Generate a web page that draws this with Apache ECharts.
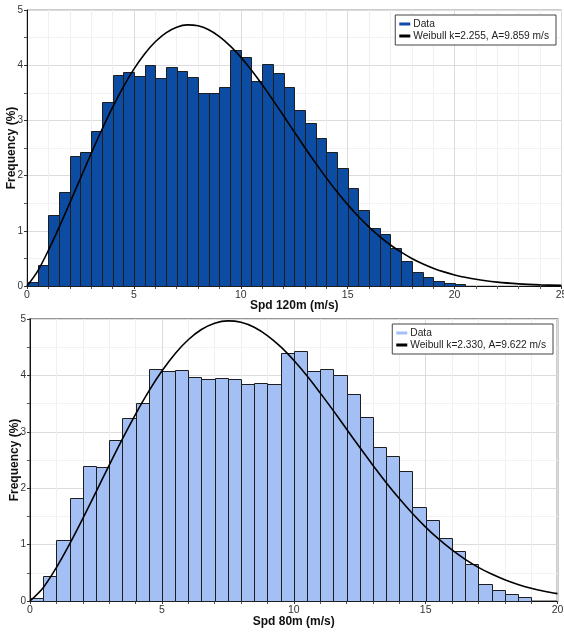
<!DOCTYPE html>
<html>
<head>
<meta charset="utf-8">
<script src="https://cdn.jsdelivr.net/npm/echarts@6/dist/echarts.min.js"></script>
<style>
html,body{margin:0;padding:0;background:#fff;}
#c{width:564px;height:635px;}
</style>
</head>
<body>
<div id="c"></div>
<script>
// ---- Top chart: Spd 120m ----
const topBinStart = [0,0.5,1,1.5,2,2.5,3,3.5,4,4.5,5,5.5,6,6.5,7,7.5,8,8.5,9,9.5,10,10.5,11,11.5,12,12.5,13,13.5,14,14.5,15,15.5,16,16.5,17,17.5,18,18.5,19,19.5,20];
const topFreq = [0.07,0.38,1.29,1.70,2.35,2.43,2.81,3.33,3.83,3.88,3.81,4.00,3.77,3.97,3.89,3.79,3.50,3.50,3.60,4.28,4.14,3.71,4.03,3.85,3.61,3.18,2.95,2.68,2.43,2.14,1.78,1.38,1.05,0.95,0.68,0.45,0.25,0.17,0.09,0.05,0.03];
const topCurveX = [0,0.5,1,1.5,2,2.5,3,3.5,4,4.5,5,5.5,6,6.5,7,7.5,8,8.5,9,9.5,10,10.5,11,11.5,12,12.5,13,13.5,14,14.5,15,15.5,16,16.5,17,17.5,18,18.5,19,19.5,20,21,22,23,24,25];
const topCurveY = [0,0.271,0.644,1.061,1.502,1.953,2.400,2.830,3.235,3.604,3.929,4.204,4.424,4.586,4.688,4.730,4.713,4.641,4.518,4.351,4.146,3.909,3.648,3.370,3.083,2.793,2.505,2.226,1.959,1.707,1.474,1.259,1.067,0.895,0.743,0.613,0.499,0.403,0.323,0.256,0.201,0.121,0.070,0.039,0.021,0.011];
const topLegend = ['Data', 'Weibull k=2.255, A=9.859 m/s'];
const topXName = 'Spd 120m (m/s)';

// ---- Bottom chart: Spd 80m ----
const botBinStart = [0,0.5,1,1.5,2,2.5,3,3.5,4,4.5,5,5.5,6,6.5,7,7.5,8,8.5,9,9.5,10,10.5,11,11.5,12,12.5,13,13.5,14,14.5,15,15.5,16,16.5,17,17.5,18,18.5];
const botFreq = [0.05,0.45,1.08,1.82,2.39,2.37,2.86,3.25,3.51,4.11,4.08,4.09,3.97,3.93,3.95,3.93,3.84,3.86,3.85,4.40,4.44,4.08,4.12,4.01,3.67,3.27,2.73,2.57,2.30,1.67,1.44,1.12,0.89,0.66,0.30,0.19,0.12,0.065];
const botCurveX = [0,0.5,1,1.5,2,2.5,3,3.5,4,4.5,5,5.5,6,6.5,7,7.5,8,8.5,9,9.5,10,10.5,11,11.5,12,12.5,13,13.5,14,14.5,15,15.5,16,16.5,17,17.5,18,18.5,19,19.5,20];
const botCurveY = [0,0.237,0.593,1.009,1.461,1.931,2.405,2.869,3.310,3.717,4.077,4.385,4.632,4.813,4.925,4.967,4.943,4.855,4.707,4.510,4.268,3.993,3.690,3.375,3.049,2.725,2.408,2.103,1.816,1.552,1.311,1.096,0.905,0.739,0.597,0.477,0.377,0.294,0.227,0.174,0.131];
const botLegend = ['Data ', 'Weibull k=2.330, A=9.622 m/s'];
const botXName = 'Spd 80m (m/s)';

const binWidth = 0.5;
const yName = 'Frequency (%)';
const FONT = 'Liberation Sans';

function binData(starts, vals) {
  return starts.map((s, i) => [s, s + binWidth, vals[i]]);
}
function pairs(xs, ys) { return xs.map((x, i) => [x, ys[i]]); }

function makeRender(fill) {
  return function (params, api) {
    const p0 = api.coord([api.value(0), 0]);
    const p1 = api.coord([api.value(1), api.value(2)]);
    const x = Math.round(p0[0]) + 0.5, x2 = Math.round(p1[0]) + 0.5;
    const yTop = Math.round(p1[1]) + 0.5, yBot = Math.round(p0[1]) + 0.5;
    return {
      type: 'rect',
      shape: { x: x, y: yTop, width: x2 - x, height: yBot - yTop },
      style: { fill: fill, stroke: '#1e1e1e', lineWidth: 1 }
    };
  };
}

function xAxis(gridIndex, max, name, gap) {
  return {
    type: 'value', gridIndex: gridIndex, min: 0, max: max, interval: 5,
    name: name, nameLocation: 'middle', nameGap: gap, nameMoveOverlap: false,
    nameTextStyle: { fontFamily: FONT, fontWeight: 'bold', fontSize: 12, color: '#111' },
    axisLine: { show: true, lineStyle: { color: '#111', width: 1 } },
    axisTick: { show: true, length: 3, inside: false, lineStyle: { color: '#333' } },
    minorTick: { show: true, splitNumber: 5, length: 3, lineStyle: { color: '#555' } },
    axisLabel: { fontFamily: FONT, fontSize: 10.5, color: '#333', margin: 4 },
    splitLine: { show: true, lineStyle: { color: '#dcdcdc', width: 1 } },
    minorSplitLine: { show: true, lineStyle: { color: '#f0f0f0', width: 1 } }
  };
}
function yAxis(gridIndex) {
  return {
    type: 'value', gridIndex: gridIndex, min: 0, max: 5, interval: 1,
    name: yName, nameLocation: 'middle', nameGap: 9.5, nameRotate: 90, nameMoveOverlap: false,
    nameTextStyle: { fontFamily: FONT, fontWeight: 'bold', fontSize: 12, color: '#111' },
    axisLine: { show: true, lineStyle: { color: '#111', width: 1 } },
    axisTick: { show: true, length: 3, lineStyle: { color: '#333' } },
    minorTick: { show: true, splitNumber: 2, length: 3, lineStyle: { color: '#555' } },
    axisLabel: { fontFamily: FONT, fontSize: 10, color: '#333', margin: 4 },
    splitLine: { show: true, lineStyle: { color: '#dcdcdc', width: 1 } },
    minorSplitLine: { show: true, lineStyle: { color: '#f2f2f2', width: 1 } }
  };
}
function legend(names, colors, right, top) {
  return {
    data: [
      { name: names[0], icon: 'rect', itemStyle: { color: colors[0], borderWidth: 0 } },
      { name: names[1], icon: 'rect', itemStyle: { color: '#000', borderWidth: 0 } }
    ],
    orient: 'vertical', right: right, top: top,
    selectedMode: false,
    backgroundColor: '#fff', borderColor: '#444', borderWidth: 1, borderRadius: 0,
    padding: [3, 7, 3, 4], itemGap: 0, itemWidth: 11, itemHeight: 3,
    formatter: n => n.trim(),
    textStyle: { fontFamily: FONT, fontSize: 10.2, color: '#222', lineHeight: 12, padding: [0, 0, 0, -2] }
  };
}

const topColor = '#0C4CA2';
const botColor = '#A3BFF4';

const option = {
  animation: false,
  backgroundColor: '#fff',
  grid: [
    { left: 27, right: 2.5, top: 10, height: 276, containLabel: false, outerBoundsMode: 'none', show: true, borderColor: '#999', borderWidth: 1, backgroundColor: 'transparent' },
    { left: 30, right: 6.5, top: 319, height: 282, containLabel: false, outerBoundsMode: 'none', show: true, borderColor: '#999', borderWidth: 2, backgroundColor: 'transparent' }
  ],
  xAxis: [xAxis(0, 25, topXName, 14), xAxis(1, 20, botXName, 15)],
  yAxis: [yAxis(0), yAxis(1)],
  legend: [legend(topLegend, [topColor], 8, 15), legend(botLegend, [botColor], 11, 324)],
  series: [
    {
      name: topLegend[0], type: 'custom', xAxisIndex: 0, yAxisIndex: 0,
      itemStyle: { color: topColor },
      encode: { x: [0, 1], y: 2 },
      renderItem: makeRender(topColor),
      data: binData(topBinStart, topFreq), z: 2
    },
    {
      name: topLegend[1], type: 'line', xAxisIndex: 0, yAxisIndex: 0,
      data: pairs(topCurveX, topCurveY), smooth: 0.3, showSymbol: false, symbol: 'none',
      itemStyle: { color: '#000' }, lineStyle: { color: '#000', width: 1.6 }, z: 3
    },
    {
      name: botLegend[0], type: 'custom', xAxisIndex: 1, yAxisIndex: 1,
      itemStyle: { color: botColor },
      encode: { x: [0, 1], y: 2 },
      renderItem: makeRender(botColor),
      data: binData(botBinStart, botFreq), z: 2
    },
    {
      name: botLegend[1], type: 'line', xAxisIndex: 1, yAxisIndex: 1,
      data: pairs(botCurveX, botCurveY), smooth: 0.3, showSymbol: false, symbol: 'none',
      itemStyle: { color: '#000' }, lineStyle: { color: '#000', width: 1.6 }, z: 3
    }
  ]
};

const chart = echarts.init(document.getElementById('c'), null, { renderer: 'canvas' });
chart.setOption(option);
</script>
</body>
</html>
